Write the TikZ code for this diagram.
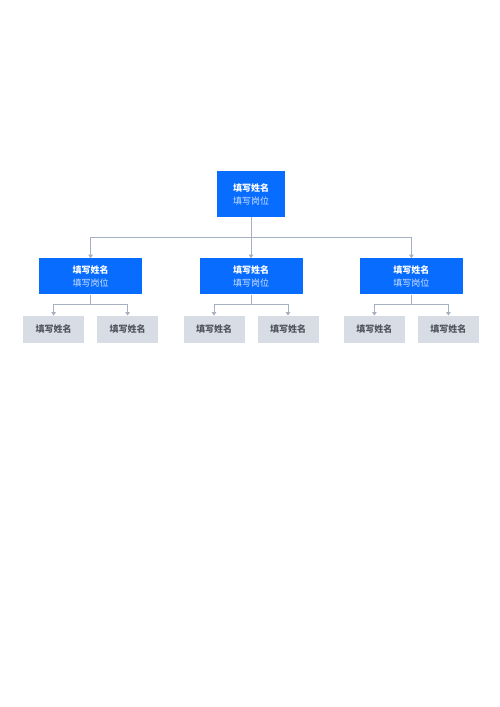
\documentclass[tikz,border=0pt]{standalone}
\usepackage{fontspec}
\newfontfamily\cjk{Noto Sans CJK SC}
\usetikzlibrary{positioning}
\usetikzlibrary{arrows.meta}
\definecolor{bossblue}{RGB}{8,108,255}
\definecolor{posttext}{RGB}{205,224,255}
\definecolor{leafgray}{RGB}{216,221,229}
\definecolor{leaftext}{RGB}{80,84,92}
\definecolor{linkgray}{RGB}{165,176,192}
\tikzset{node distance=41pt, % vertical gap between levels
every node/.style={font=\cjk\fontsize{9}{13}\selectfont, align=center, inner sep=0pt},
head/.style={ % boxes with a name and a post
fill=bossblue,
text=white,
minimum width=68pt,
minimum height=46pt},
chief/.style={ % boxes of the second level
head,
minimum width=103pt,
minimum height=36pt},
leaf/.style={ % grey boxes at the bottom
fill=leafgray,
text=leaftext,
minimum width=61pt,
minimum height=27pt},
link/.style={ % connectors
draw=linkgray,
line width=0.8pt,
-{Triangle[width=4.5pt,length=3.5pt]}}}
\newcommand{\person}{\textbf{填写姓名}\\\textcolor{posttext}{填写岗位}}
\begin{document}
\begin{tikzpicture}
		\useasboundingbox (0,0) rectangle (500pt,-707pt);
		\node[head] (top) at (251pt,-194pt) {\person};
		\node[chief, below=of top] (m2) {\person};
		\node[chief, left=57pt of m2] (m1) {\person};
		\node[chief, right=57pt of m2] (m3) {\person};

		\node[leaf, below=21pt of m1, xshift=-37pt] (l1) {\textbf{填写姓名}};
		\node[leaf, below=21pt of m1, xshift=37pt] (l2) {\textbf{填写姓名}};
		\node[leaf, below=21pt of m2, xshift=-37pt] (l3) {\textbf{填写姓名}};
		\node[leaf, below=21pt of m2, xshift=37pt] (l4) {\textbf{填写姓名}};
		\node[leaf, below=21pt of m3, xshift=-37pt] (l5) {\textbf{填写姓名}};
		\node[leaf, below=21pt of m3, xshift=37pt] (l6) {\textbf{填写姓名}};

		\coordinate[below=20pt of top.south] (bus);
		\draw[link] (top.south) -- (m2.north);
		\draw[link, -] (top.south) -- (bus);
		\draw[link] (bus) -| (m1.north);
		\draw[link] (bus) -| (m3.north);

		% two leaves under every chief
		\foreach \m/\a/\b in {m1/l1/l2, m2/l3/l4, m3/l5/l6}{
			\coordinate[below=10pt of \m.south] (\m bus);
			\draw[link, -] (\m.south) -- (\m bus);
			\draw[link] (\m bus) -| (\a.north);
			\draw[link] (\m bus) -| (\b.north);
		}
	\end{tikzpicture}
\end{document}
